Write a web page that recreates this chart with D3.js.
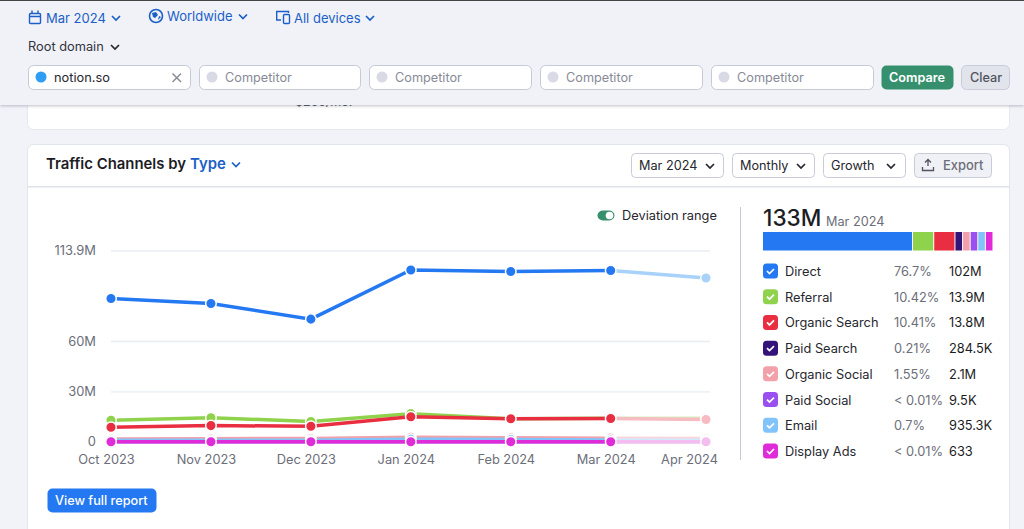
<!DOCTYPE html>
<html>
<head>
<meta charset="utf-8">
<script src="https://cdn.jsdelivr.net/npm/d3@7"></script>
<style>
    html, body { margin: 0; padding: 0; background: #f1f3f9; overflow: hidden; }
    svg { display: block; font-family: Inter, "Noto Sans", sans-serif; }
</style>
</head>
<body>
<div id="page"></div>
<script>
// values in millions
const months = ['Oct 2023', 'Nov 2023', 'Dec 2023', 'Jan 2024', 'Feb 2024', 'Mar 2024', 'Apr 2024'];
const yTicks = [0, 30, 60, 113.9];
const direct = [85.3, 82.3, 73, 102.3, 101.4, 102, 97.5];
const referral = [12.8, 14.3, 12, 16.7, 13.6, 13.9, 13.9];
const organicSearch = [8.6, 9.6, 9.2, 14.9, 13.7, 13.8, 13.2];
const paidSearch = [0.25, 0.25, 0.25, 0.3, 0.28, 0.28, 0.25];
const organicSocial = [1.6, 1.8, 1.9, 2.6, 2.3, 2.1, 1.9];
const paidSocial = [0.01, 0.01, 0.01, 0.01, 0.01, 0.01, 0.01];
const email = [0.8, 0.9, 0.9, 1.4, 1.3, 0.94, 0.9];
const displayAds = [0.001, 0.001, 0.001, 0.001, 0.001, 0.001, 0.001];

const channels = ['Direct', 'Referral', 'Organic Search', 'Paid Search', 'Organic Social', 'Paid Social', 'Email', 'Display Ads'];
const channelValues = [direct, referral, organicSearch, paidSearch, organicSocial, paidSocial, email, displayAds];
const channelColors = ['#2478f2', '#8fd24b', '#e92e42', '#35147a', '#f2a0aa', '#9a4ff0', '#80c4fb', '#df2cd8'];
// the forecast month is drawn in a pale tint of each channel
const paleColors = ['#a8d2f9', '#d6efbc', '#f7bcc1', '#c4b8dc', '#f9d6da', '#d9c0f8', '#d2e8fc', '#f4bdf0'];
const shares = [76.7, 10.42, 10.41, 0.21, 1.55, 0.01, 0.7, 0.01];
const shareLabels = ['76.7%', '10.42%', '10.41%', '0.21%', '1.55%', '< 0.01%', '0.7%', '< 0.01%'];
const totals = ['102M', '13.9M', '13.8M', '284.5K', '2.1M', '9.5K', '935.3K', '633'];

const competitorBoxes = [[199, 162], [369, 163], [540, 163], [711, 163]];
const blue = '#1b5fc7';
const chevron = 'M-4 -2 L0 2 L4 -2';

const svg = d3.select('#page').append('svg').attr('width', 1024).attr('height', 529);

const addText = (x, y, str, size, fill, weight) =>
    svg.append('text')
        .attr('x', x)
        .attr('y', y)
        .attr('dy', '.35em')
        .attr('font-size', size)
        .attr('fill', fill)
        .attr('font-weight', weight || 400)
        .text(str);

const addBox = (x, y, w, h, fill, stroke, r) =>
    svg.append('rect')
        .attr('x', x + 0.5)
        .attr('y', y + 0.5)
        .attr('width', w - 1)
        .attr('height', h - 1)
        .attr('rx', r || 4)
        .attr('fill', fill)
        .attr('stroke', stroke || 'none');

const addChevron = (x, y, color) =>
    svg.append('path')
        .attr('transform', `translate(${x},${y})`)
        .attr('d', chevron)
        .attr('fill', 'none')
        .attr('stroke', color)
        .attr('stroke-width', 1.7);

// cards behind the sticky header
addBox(27, 60, 983, 70, '#fff', '#e6e8ef', 6);
addText(295, 102, '$255/mo.', 12.5, '#3a3c45');
addBox(27, 144, 983, 420, '#fff', '#e3e5ec', 6);
svg.append('rect').attr('x', 28).attr('y', 186).attr('width', 982).attr('height', 1.5).attr('fill', '#dfe2ea');

// sticky header
const defs = svg.append('defs');
defs.append('filter').attr('id', 'shadow').attr('y', '-10%').attr('height', '125%')
    .append('feDropShadow')
    .attr('dx', 0).attr('dy', 1).attr('stdDeviation', 1.5)
    .attr('flood-color', '#7d8090').attr('flood-opacity', 0.5);
svg.append('rect').attr('x', 0).attr('y', 0).attr('width', 1024).attr('height', 105)
    .attr('fill', '#f0f2f8').attr('filter', 'url(#shadow)');
svg.append('rect').attr('x', 0).attr('y', 0).attr('width', 1024).attr('height', 1).attr('fill', '#444');

// calendar icon
addBox(29, 13, 12, 11, 'none', blue, 1).attr('stroke-width', 1.4);
svg.append('path').attr('d', 'M29 16.5 H41 M32 10.5 V13 M38 10.5 V13').attr('stroke', blue).attr('stroke-width', 1.4);
addText(46, 18, 'Mar 2024', 13, blue);
addChevron(116, 18, blue);

// globe icon
svg.append('circle').attr('cx', 156).attr('cy', 16).attr('r', 6.5).attr('fill', 'none').attr('stroke', blue).attr('stroke-width', 1.6);
svg.append('path').attr('d', 'M152 13 L156 12 L158 15 L155 18 L153 17 Z M159 16 L161 17 L158 20 Z').attr('fill', blue);
addText(167, 16.5, 'Worldwide', 13, blue);
addChevron(243, 16.5, blue);

// devices icon
svg.append('path').attr('d', 'M281 20 H276.7 V11.5 H288.5 V13').attr('fill', 'none').attr('stroke', blue).attr('stroke-width', 1.4);
addBox(283, 14, 7, 10, 'none', blue, 1).attr('stroke-width', 1.4);
addText(294, 18, 'All devices', 13, blue);
addChevron(370, 18, blue);

addText(28, 47, 'Root domain', 12.8, '#33353e');
addChevron(115, 47, '#26272e');

// domain inputs
addBox(28, 65, 163, 25, '#fff', '#c6c9d6', 5);
svg.append('circle').attr('cx', 41).attr('cy', 77).attr('r', 5.5).attr('fill', '#2f9df4');
addText(54, 78, 'notion.so', 12.8, '#26272e');
svg.append('path').attr('d', 'M172.5 73.5 L181 82 M181 73.5 L172.5 82').attr('stroke', '#8b8d98').attr('stroke-width', 1.5);

competitorBoxes.forEach(([x, w]) => {
    addBox(x, 65, w, 25, '#fff', '#c6c9d6', 5);
    svg.append('circle').attr('cx', x + 13).attr('cy', 77).attr('r', 5.5).attr('fill', '#d9dae5');
    addText(x + 26, 78, 'Competitor', 12.7, '#878a96');
});
addBox(881, 65, 73, 25, '#36906d', null, 5);
addText(889, 77.5, 'Compare', 12.7, '#fff', 600);
addBox(961, 65, 49, 25, '#e2e4ec', '#c9ccd8', 5);
addText(970, 77.5, 'Clear', 12.7, '#50535e', 500);

// card title and controls
addText(46, 164, 'Traffic Channels by', 14.9, '#1c1d24', 600);
addText(190, 164, 'Type', 14.9, blue, 600);
addChevron(236, 164.5, blue);

addBox(631, 153, 93, 25, '#fff', '#c9ccd8', 4);
addText(639, 165.5, 'Mar 2024', 12.7, '#26272e');
addChevron(710, 166, '#26272e');
addBox(732, 153, 83, 25, '#fff', '#c9ccd8', 4);
addText(740, 165.5, 'Monthly', 12.7, '#26272e');
addChevron(801, 166, '#26272e');
addBox(823, 153, 83, 25, '#fff', '#c9ccd8', 4);
addText(831, 165.5, 'Growth', 12.7, '#26272e');
addChevron(891, 166, '#26272e');
addBox(914, 153, 78, 25, '#f0f1f6', '#c9ccd8', 4);
svg.append('path').attr('d', 'M928 166 V160 M925 162.5 L928 159.5 L931 162.5 M922.5 167 V170.5 H933.5 V167')
    .attr('fill', 'none').attr('stroke', '#50535e').attr('stroke-width', 1.3);
addText(943, 165.5, 'Export', 12.9, '#6c6e79', 500);

// deviation toggle
addBox(597, 210, 18, 11, '#36906d', null, 5.5);
svg.append('circle').attr('cx', 609.5).attr('cy', 215.5).attr('r', 3.8).attr('fill', '#fff');
addText(622, 215.5, 'Deviation range', 12.8, '#26272e');

// line chart
const x = d3.scaleLinear().domain([0, 5, 6]).range([111, 610.7, 706]);
const y = d3.scaleLinear().domain([0, 113.9]).range([441.7, 250.5]);
const gridRight = 710;

const yAxis = d3.axisLeft(y)
    .tickValues(yTicks)
    .tickFormat((d) => (d === 0 ? '0' : `${d}M`))
    .tickSize(-(gridRight - x(0)))
    .tickPadding(15);
const yG = svg.append('g').attr('transform', `translate(${x(0)},0)`).call(yAxis);
yG.select('.domain').remove();
yG.selectAll('line').attr('stroke', '#e8ecf3').attr('stroke-width', 1.3);
yG.selectAll('text').attr('font-size', 12.9).attr('fill', '#6c6e79').attr('font-family', 'Inter');

// labels sit left of their points, the last one is kept inside the plot
const xAxis = d3.axisBottom(x)
    .tickValues(d3.range(months.length))
    .tickFormat((i) => months[i])
    .tickSize(0)
    .tickPadding(13.5);
const xG = svg.append('g').attr('transform', 'translate(0,441.5)').call(xAxis);
xG.select('.domain').remove();
xG.selectAll('text')
    .attr('font-size', 12.8)
    .attr('fill', '#6c6e79')
    .attr('font-family', 'Inter')
    .attr('dx', (i) => (i === 6 ? -17 : -5));

const line = d3.line().x((d) => x(d.i)).y((d) => y(d.v));

channelValues.forEach((vals, c) => {
    const pts = vals.map((v, i) => ({ v, i }));
    const g = svg.append('g');
    g.append('path')
        .attr('d', line(pts.slice(5)))
        .attr('fill', 'none')
        .attr('stroke', paleColors[c])
        .attr('stroke-width', 3.5);
    g.append('path')
        .attr('d', line(pts.slice(0, 6)))
        .attr('fill', 'none')
        .attr('stroke', channelColors[c])
        .attr('stroke-width', 3.5);
    g.selectAll('circle')
        .data(pts)
        .enter()
        .append('circle')
        .attr('cx', (d) => x(d.i))
        .attr('cy', (d) => y(d.v))
        .attr('r', 5.3)
        .attr('fill', (d) => (d.i === 6 ? paleColors[c] : channelColors[c]))
        .attr('stroke', '#fff')
        .attr('stroke-width', 1.5);
});

// divider and summary
svg.append('rect').attr('x', 740).attr('y', 207).attr('width', 1).attr('height', 253).attr('fill', '#c6c9d6');
addText(763, 218.5, '133M', 22.6, '#1c1d24', 500);
addText(826, 222, 'Mar 2024', 12.7, '#6c6e79');

// short channels keep a minimum width in the stacked bar
const barScale = d3.scaleLinear().domain([0, 76.7]).range([0, 149]);
let barX = 763;
shares.forEach((s, c) => {
    const w = Math.max(6.6, barScale(s));
    svg.append('rect')
        .attr('x', barX)
        .attr('y', 232)
        .attr('width', w)
        .attr('height', 18.5)
        .attr('fill', channelColors[c]);
    barX += w + 1;
});

const rowY = d3.scalePoint().domain(channels).range([271, 451]);
channels.forEach((name, c) => {
    const ry = rowY(name);
    svg.append('rect')
        .attr('x', 763)
        .attr('y', ry - 7.5)
        .attr('width', 15)
        .attr('height', 15)
        .attr('rx', 3.5)
        .attr('fill', channelColors[c]);
    svg.append('path')
        .attr('d', `M767 ${ry} L769.5 ${ry + 2.5} L774 ${ry - 2}`)
        .attr('fill', 'none')
        .attr('stroke', '#fff')
        .attr('stroke-width', 1.7);
    addText(785, ry + 0.5, name, 12.8, '#26272e');
    addText(894, ry + 0.5, shareLabels[c], 12.8, '#6c6e79');
    addText(949, ry + 0.5, totals[c], 12.8, '#1c1d24');
});

// report button
addBox(47, 488, 110, 25, '#2478f2', null, 5);
addText(55, 501, 'View full report', 12.7, '#fff', 500);
</script>
</body>
</html>
